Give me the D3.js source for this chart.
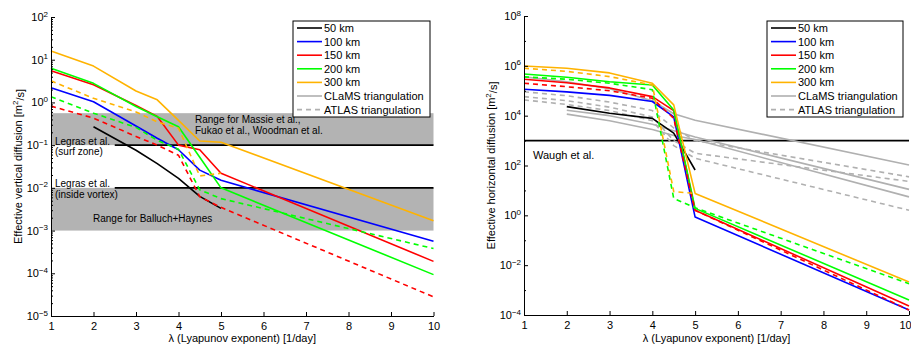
<!DOCTYPE html>
<html><head><meta charset="utf-8">
<script src="https://cdn.jsdelivr.net/npm/d3@7"></script>
<style>
body{margin:0;background:#fff;}
svg{font-family:"Liberation Sans",Arial,Helvetica,sans-serif;}
</style></head><body>
<svg id="chart" width="911" height="345"></svg>
<script>
// ---------- shared ----------
const lambdaTicks = [1, 2, 3, 4, 5, 6, 7, 8, 9, 10];
const legendLabels = ["50 km", "100 km", "150 km", "200 km", "300 km", "CLaMS triangulation", "ATLAS triangulation"];
const kmColors = ["#000000", "#0000ff", "#ff0000", "#00ff00", "#ffb300"];
const greyColor = "#b0b0b0";

// ---------- effective vertical diffusion [m^2/s] ----------
const lamV = [1, 2, 3, 3.5, 4, 4.5, 5, 10];
const lamV50 = [2, 3, 3.5, 4, 4.5, 5];
const lamVAtlas300 = [1, 2, 3, 3.5, 4, 4.5, 5];
const vClams50  = [0.27, 0.076, 0.037, 0.0166, 0.0063, 0.0033];
const vClams100 = [2.2, 1.04, 0.28, 0.145, 0.078, 0.026, 0.015, 5.6e-4];
const vClams150 = [5.5, 2.6, 0.85, 0.47, 0.1, 0.078, 0.022, 1.9e-4];
const vClams200 = [6.3, 2.8, 0.8, 0.46, 0.27, 0.052, 0.01, 9.3e-5];
const vClams300 = [16, 7.1, 1.85, 1.15, 0.38, 0.125, 0.117, 0.0017];
const vAtlas150 = [0.82, 0.43, 0.16, 0.1, 0.058, 0.0062, 0.0035, 2.8e-5];
const vAtlas200 = [1.36, 0.56, 0.26, 0.13, 0.08, 0.009, 0.0056, 3.8e-4];
const vAtlas300 = [3.2, 1.25, 0.6, 0.35, 0.25, 0.019, 0.022];
const rangeMassie = [0.1, 0.56];
const rangeBalluch = [0.001, 0.01];
const legrasSurf = 0.1;
const legrasVortex = 0.01;
const legrasFrom = 2.5;

// ---------- effective horizontal diffusion [m^2/s] ----------
const lamH = [1, 2, 3, 4, 4.5, 5, 10];
const lamH50 = [2, 3, 4, 4.5, 5];
const lamHAtlas300 = [1, 2, 3, 4, 4.5, 5];
const lamHFrom2 = [2, 3, 4, 4.5, 5, 10];
const hClams50  = [2.3e4, 1.25e4, 7.8e3, 2e3, 66];
const hClams100 = [1.15e5, 9e4, 6.5e4, 3.7e4, 9e3, 0.85, 1.6e-4];
const hClams150 = [2.9e5, 2.1e5, 1.3e5, 5.8e4, 1.6e4, 1.6, 2.3e-4];
const hClams200 = [4.7e5, 3.5e5, 2.3e5, 1.7e5, 1.7e4, 1.9, 4e-4];
const hClams300 = [9.8e5, 8e5, 5.2e5, 2e5, 2.7e4, 7.6, 2.1e-3];
const hAtlas150 = [2e5, 1.45e5, 1e5, 5e4, 7.8e3, 1.6, 1.6e-4];
const hAtlas200 = [3.6e5, 2.9e5, 2e5, 1.1e5, 4.8, 2, 1.8e-3];
const hAtlas300 = [8e5, 6e5, 3.7e5, 1.7e5, 9, 7.5];
const hGreyClamsA = [3.6e5, 2.3e5, 1.2e5, 4e4, 1.2e4, 6.6e3, 105];
const hGreyClamsB = [1.66e4, 1e4, 4.5e3, 2.5e3, 1.4e3, 11];
const hGreyClamsC = [1.15e4, 6.3e3, 2.8e3, 1.6e3, 1.1e3, 5.5];
const hGreyAtlasA = [9.1e4, 6.3e4, 3.5e4, 1.6e4, 3.2e3, 1e3, 35];
const hGreyAtlasB = [5.8e4, 4e4, 2.2e4, 8.9e3, 1e3, 310, 23];
const hGreyAtlasC = [4.3e4, 2.8e4, 1.6e4, 6.3e3, 630, 195, 1.6];
const waugh = 1e3;

const svg = d3.select("#chart");
const DASH = "5,4";

function series(lam, vals, color, dashed) {
  return { pts: lam.map((l, i) => [l, vals[i]]), color, dashed };
}

function superscriptLabels(axisG) {
  axisG.selectAll(".tick text").each(function (d) {
    const t = d3.select(this);
    const e = Math.round(Math.log10(d));
    t.text(null);
    t.append("tspan").text("10");
    t.append("tspan").attr("dy", "-0.55em").attr("font-size", "8px")
      .text(e < 0 ? "\u2212" + (-e) : String(e));
  });
}

function panel(cfg) {
  const x = d3.scaleLinear().domain([1, 10]).range(cfg.xRange);
  const y = d3.scaleLog().domain(cfg.yDomain).range(cfg.yRange);
  const g = svg.append("g");
  const [x0, x1] = cfg.xRange;

  cfg.under(g, x, y);

  const line = d3.line().x(d => x(d[0])).y(d => y(d[1]));
  g.append("g").selectAll("path").data(cfg.series).join("path")
    .attr("d", d => line(d.pts))
    .attr("fill", "none")
    .attr("stroke", d => d.color)
    .attr("stroke-width", 1.6)
    .attr("stroke-dasharray", d => d.dashed ? DASH : null)
    .attr("stroke-linejoin", "round");

  // axes (ticks point inward)
  const yAxis = d3.axisLeft(y).tickValues(cfg.yMajors).tickSizeInner(-4).tickSizeOuter(0).tickPadding(3);
  const ya = g.append("g").attr("transform", `translate(${x0},0)`).call(yAxis);
  superscriptLabels(ya);
  const yMinor = d3.axisLeft(y).tickValues(cfg.yMinors).tickSizeInner(-2).tickSizeOuter(0).tickFormat("");
  g.append("g").attr("transform", `translate(${x0},0)`).call(yMinor).select(".domain").remove();

  const xAxis = d3.axisBottom(x).tickValues(lambdaTicks).tickSizeInner(-4).tickSizeOuter(0).tickPadding(6).tickFormat(d3.format("d"));
  const xa = g.append("g").attr("transform", `translate(0,${cfg.yRange[0]})`).call(xAxis);
  if (cfg.lastTickShift) xa.selectAll(".tick text").filter(d => d === 10).attr("dx", cfg.lastTickShift);

  g.selectAll(".tick text").attr("font-size", "11px").attr("font-family", "Liberation Sans, Arial, sans-serif").attr("fill", "#000");
  g.selectAll(".domain, .tick line").attr("stroke", "#000");

  // axis titles
  g.append("text").attr("x", (x0 + x1) / 2).attr("y", 342).attr("text-anchor", "middle")
    .attr("font-size", "11px").text("\u03bb (Lyapunov exponent) [1/day]");
  const yt = g.append("text").attr("transform", `translate(${cfg.yTitleX},${(cfg.yRange[0] + cfg.yRange[1]) / 2}) rotate(-90)`)
    .attr("text-anchor", "middle").attr("font-size", "11px");
  yt.append("tspan").text(cfg.yTitle + " [m");
  yt.append("tspan").attr("dy", "-0.5em").attr("font-size", "8px").text("2");
  yt.append("tspan").attr("dy", "0.5em").text("/s]");

  // legend
  const lg = g.append("g").attr("transform", `translate(${cfg.legend[0]},${cfg.legend[1]})`);
  lg.append("rect").attr("width", cfg.legend[2]).attr("height", 96)
    .attr("fill", "#fff").attr("stroke", "#000").attr("stroke-width", 1);
  const legendColors = kmColors.concat([greyColor, greyColor]);
  legendLabels.forEach((lab, i) => {
    const yy = 7 + i * 13.6;
    lg.append("line").attr("x1", 4).attr("x2", 29).attr("y1", yy).attr("y2", yy)
      .attr("stroke", legendColors[i]).attr("stroke-width", 1.6)
      .attr("stroke-dasharray", i === 6 ? DASH : null);
    lg.append("text").attr("x", 31).attr("y", yy + 4).attr("font-size", "11px").text(lab);
  });
  return { x, y, g };
}

// ---------- left panel ----------
panel({
  xRange: [51, 433.5],
  yDomain: [1e-5, 1e2],
  yRange: [316, 17],
  yMajors: d3.range(-5, 3).map(e => Math.pow(10, e)),
  yMinors: d3.range(-5, 2).flatMap(e => d3.range(2, 10).map(m => m * Math.pow(10, e))),
  yTitle: "Effective vertical diffusion",
  yTitleX: 22,
  legend: [293, 21, 137],
  series: [
    series(lamV50, vClams50, kmColors[0], false),
    series(lamV, vClams100, kmColors[1], false),
    series(lamV, vClams150, kmColors[2], false),
    series(lamV, vClams200, kmColors[3], false),
    series(lamV, vClams300, kmColors[4], false),
    series(lamV, vAtlas150, kmColors[2], true),
    series(lamV, vAtlas200, kmColors[3], true),
    series(lamVAtlas300, vAtlas300, kmColors[4], true)
  ],
  under(g, x, y) {
    const bands = [rangeMassie, rangeBalluch];
    g.selectAll("rect.band").data(bands).join("rect").attr("class", "band")
      .attr("x", x(1)).attr("width", x(10) - x(1))
      .attr("y", d => y(d[1])).attr("height", d => y(d[0]) - y(d[1]))
      .attr("fill", "#b3b3b3");
    [legrasSurf, legrasVortex].forEach(v => {
      g.append("line").attr("x1", x(legrasFrom)).attr("x2", x(10))
        .attr("y1", y(v)).attr("y2", y(v)).attr("stroke", "#000").attr("stroke-width", 1.6);
    });
    const note = (tx, ty, s) => g.append("text").attr("x", tx).attr("y", ty).attr("font-size", "10px").text(s);
    note(195, 123, "Range for Massie et al.,");
    note(195, 134, "Fukao et al., Woodman et al.");
    note(55, 145, "Legras et al.");
    note(55, 155, "(surf zone)");
    note(55, 187, "Legras et al.");
    note(55, 198, "(inside vortex)");
    note(93, 222, "Range for Balluch+Haynes");
  }
});

// ---------- right panel ----------
panel({
  xRange: [524, 909],
  yDomain: [1e-4, 1e8],
  yRange: [315, 16],
  yMajors: d3.range(-4, 9, 2).map(e => Math.pow(10, e)),
  yMinors: d3.range(-3, 8, 2).map(e => Math.pow(10, e)),
  yTitle: "Effective horizontal diffusion",
  yTitleX: 495,
  legend: [767, 21, 136],
  lastTickShift: -4,
  series: [
    series(lamH, hGreyClamsA, greyColor, false),
    series(lamHFrom2, hGreyClamsB, greyColor, false),
    series(lamHFrom2, hGreyClamsC, greyColor, false),
    series(lamH, hGreyAtlasA, greyColor, true),
    series(lamH, hGreyAtlasB, greyColor, true),
    series(lamH, hGreyAtlasC, greyColor, true),
    series(lamH50, hClams50, kmColors[0], false),
    series(lamH, hClams100, kmColors[1], false),
    series(lamH, hClams150, kmColors[2], false),
    series(lamH, hClams200, kmColors[3], false),
    series(lamH, hClams300, kmColors[4], false),
    series(lamH, hAtlas150, kmColors[2], true),
    series(lamH, hAtlas200, kmColors[3], true),
    series(lamHAtlas300, hAtlas300, kmColors[4], true)
  ],
  under(g, x, y) {
    g.append("line").attr("x1", x(1)).attr("x2", x(10))
      .attr("y1", y(waugh)).attr("y2", y(waugh)).attr("stroke", "#000").attr("stroke-width", 1.6);
    g.append("text").attr("x", 533).attr("y", 159).attr("font-size", "11px").text("Waugh et al.");
  }
});
</script></body></html>
